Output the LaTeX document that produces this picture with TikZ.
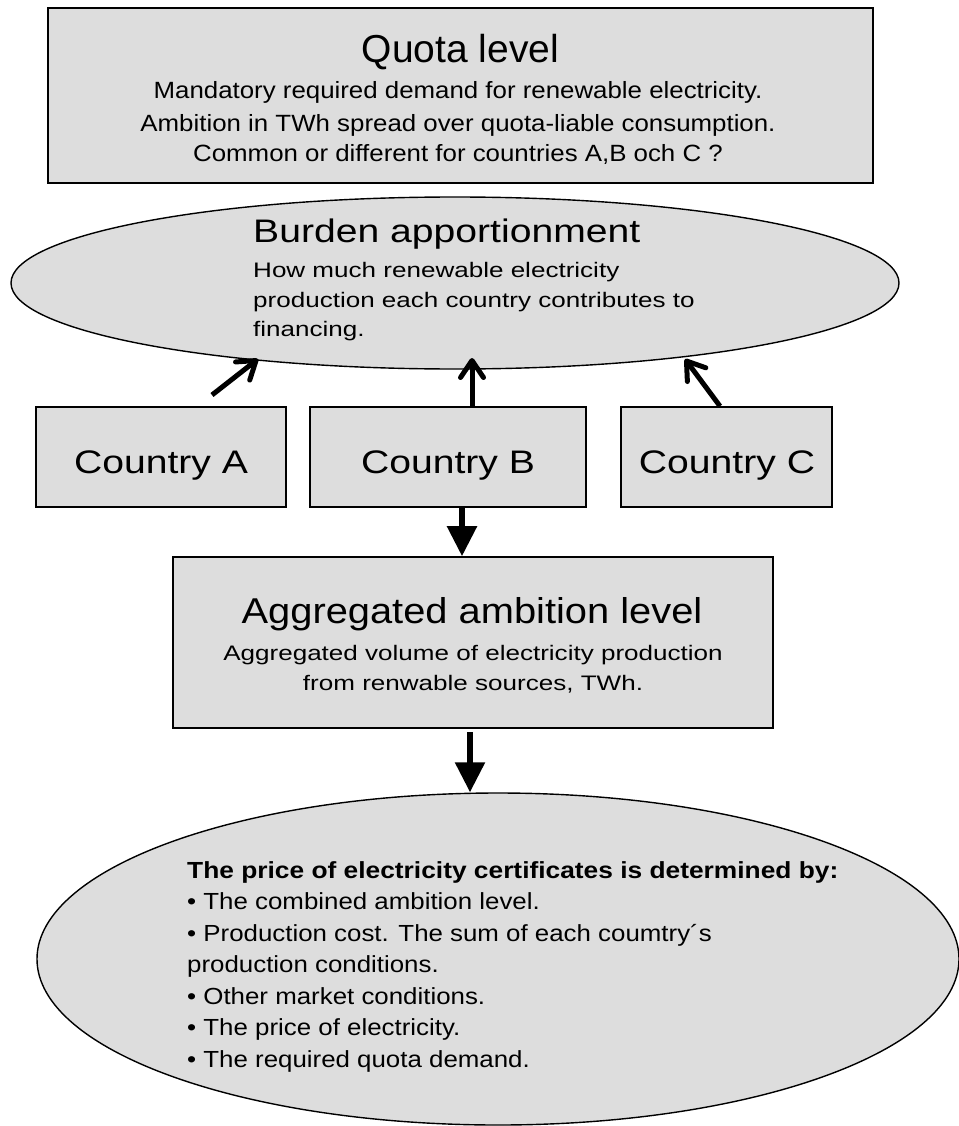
\documentclass[tikz,border=0pt]{standalone}
\usepackage{fontspec}
\setmainfont{Liberation Sans}
\newfontfamily\fQ{Liberation Sans}
\newfontfamily\fQb{Liberation Sans}[FakeStretch=1.1]
\newfontfamily\fW{Liberation Sans}[FakeStretch=1.2]
\newfontfamily\fWW{Liberation Sans}[FakeStretch=1.24]
\newfontfamily\fM{Liberation Sans}[FakeStretch=1.11]
\newfontfamily\fMb{Liberation Sans}[FakeStretch=1.13]
\usetikzlibrary{arrows.meta,shapes.geometric}
\definecolor{boxgray}{HTML}{DDDDDD}
\begin{document}
\begin{tikzpicture}[x=1pt,y=-1pt,
  box/.style={draw=black,line width=1.6pt,fill=boxgray,inner sep=0pt},
  oval/.style={ellipse,draw=black,line width=1.4pt,fill=boxgray,inner sep=0pt},
  txt/.style={inner sep=0pt,anchor=base},
  txtl/.style={inner sep=0pt,anchor=base west},
  bigtitle/.style={font=\fQ\fontsize{39}{39}\selectfont},
  qbody/.style={font=\fQb\fontsize{23.5}{23.5}\selectfont},
  wtitle/.style={font=\fW\fontsize{32.6}{32.6}\selectfont},
  wbody/.style={font=\fWW\fontsize{21}{21}\selectfont},
  mtitle/.style={font=\fM\fontsize{35.9}{35.9}\selectfont},
  mbody/.style={font=\fM\fontsize{23.3}{23.3}\selectfont},
  mbold/.style={font=\fMb\bfseries\fontsize{23.3}{23.3}\selectfont},
  uparrow/.style={line width=5pt,-{Straight Barb[length=17pt,width=23pt,round]}},
  downarrow/.style={line width=5.5pt,-{Triangle[length=30pt,width=29pt]}}]
\useasboundingbox (0,0) rectangle (958,1126);

% Quota level box
\node[box,minimum width=825pt,minimum height=175pt] (quota) at (460.5,95.5) {};
\node[txt,bigtitle] (quotaT) at (460.5,63) {Quota level};
\node[txt,qbody] (quota1) at (458,99) {Mandatory required demand for renewable electricity.};
\node[txt,qbody] (quota2) at (458,131.5) {Ambition in TWh spread over quota-liable consumption.};
\node[txt,qbody] (quota3) at (458,162) {Common or different for countries A,B och C ?};

% Burden apportionment ellipse
\node[oval,minimum width=888pt,minimum height=172pt] (burden) at (455,283) {};
\node[txtl,wtitle] (burdenT) at (253,242) {Burden apportionment};
\node[txtl,wbody] (burden1) at (253,277) {How much renewable electricity};
\node[txtl,wbody] (burden2) at (253,307) {production each country contributes to};
\node[txtl,wbody] (burden3) at (253,336) {financing.};

% Countries
\node[box,minimum width=250pt,minimum height=100pt] (cA) at (161,457) {};
\node[box,minimum width=276pt,minimum height=100pt] (cB) at (448,457) {};
\node[box,minimum width=211pt,minimum height=100pt] (cC) at (726.5,457) {};
\node[txt,wtitle] (cAt) at (161,473) {Country A};
\node[txt,wtitle] (cBt) at (448,473) {Country B};
\node[txt,wtitle] (cCt) at (727,473) {Country C};

% Aggregated ambition level
\node[box,minimum width=600pt,minimum height=171pt] (agg) at (473,642.5) {};
\node[txt,mtitle] (aggT) at (472,623) {Aggregated ambition level};
\node[txt,wbody] (agg1) at (473,660) {Aggregated volume of electricity production};
\node[txt,wbody] (agg2) at (473,690) {from renwable sources, TWh.};

% Price ellipse
\node[oval,minimum width=922pt,minimum height=332pt] (price) at (498,959) {};
\node[txtl,mbold] (priceT) at (187,878) {The price of electricity certificates is determined by:};
\node[txtl,mbody] (price1) at (187,909) {• The combined ambition level.};
\node[txtl,mbody] (price2) at (187,941) {• Production cost. The sum of each coumtry´s};
\node[txtl,mbody] (price3) at (187,972) {production conditions.};
\node[txtl,mbody] (price4) at (187,1004) {• Other market conditions.};
\node[txtl,mbody] (price5) at (187,1035) {• The price of electricity.};
\node[txtl,mbody] (price6) at (187,1067) {• The required quota demand.};

% Arrows up to burden apportionment
\coordinate (aTail) at (212,395);
\coordinate (aTip) at (258,359);
\coordinate (bTip) at (472,358);
\coordinate (cX) at (720,0);
\coordinate (cTip) at (685,359);
\draw[uparrow] (aTail) -- (aTip);
\draw[uparrow] (cB.north -| bTip) -- (bTip);
\draw[uparrow] (cC.north -| cX) -- (cTip);

% Arrows down
\coordinate (bX) at (462,0);
\coordinate (aggX) at (470,732);
\draw[downarrow] (cB.south -| bX) -- (agg.north -| bX);
\draw[downarrow] (aggX) -- (price.north -| aggX);
\end{tikzpicture}
\end{document}
